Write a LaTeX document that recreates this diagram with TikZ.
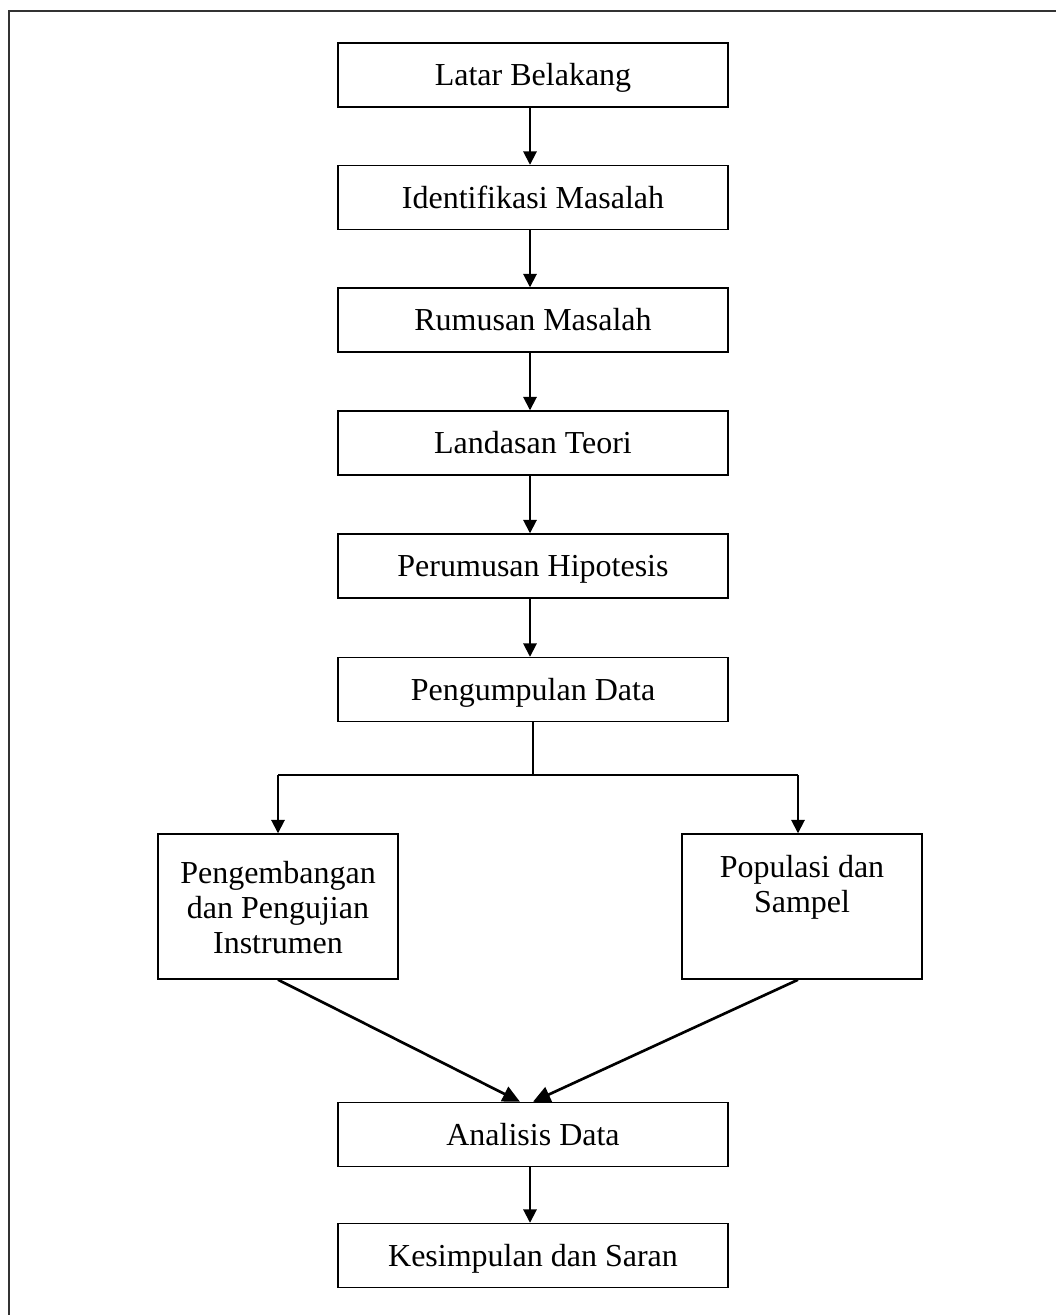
\documentclass[tikz,border=0pt]{standalone}
\usepackage{fontspec}
\setmainfont{Liberation Serif}
\usetikzlibrary{arrows.meta}
\begin{document}
\begin{tikzpicture}[x=0.75pt,y=-0.75pt,
  txt/.style={font=\fontsize{24}{26.25}\selectfont},
  box/.style={draw=black,line width=1.1pt,minimum width=292.5pt,minimum height=48pt,inner sep=0pt,txt,text height=15.75pt,text depth=0pt},
  tallbox/.style={draw=black,line width=1.1pt,minimum width=180pt,minimum height=108.75pt,inner sep=0pt},
  lbl/.style={txt,align=center,inner sep=0pt,anchor=north},
  flow/.style={line width=1.4pt,-{Triangle[width=10pt,length=10pt]}},
  diag/.style={line width=2pt,-{Triangle[width=12pt,length=13pt]}},
  plain/.style={line width=1.4pt}
]
\useasboundingbox (0,0) rectangle (1056,1315);
\draw[black!80,line width=1.2pt] (1056,11) -- (9,11) -- (9,1315);

\node[box] (lb) at (533,75) {Latar Belakang};
\node[box] (im) at (533,197.5) {Identifikasi Masalah};
\node[box] (rm) at (533,320) {Rumusan Masalah};
\node[box] (lt) at (533,443) {Landasan Teori};
\node[box] (ph) at (533,566) {Perumusan Hipotesis};
\node[box] (pd) at (533,689.5) {Pengumpulan Data};

\node[tallbox] (pg) at (278,906.5) {};
\node[lbl] (pgt) at (278,861) {Pengembangan\\dan Pengujian\\Instrumen};
\node[tallbox] (ps) at (802,906.5) {};
\node[lbl] (pst) at (802,855) {Populasi dan\\Sampel};

\node[box] (ad) at (533,1134.5) {Analisis Data};
\node[box] (ks) at (533,1255.5) {Kesimpulan dan Saran};

\draw[flow] ([xshift=-2.25pt]lb.south) -- ([xshift=-2.25pt]im.north);
\draw[flow] ([xshift=-2.25pt]im.south) -- ([xshift=-2.25pt]rm.north);
\draw[flow] ([xshift=-2.25pt]rm.south) -- ([xshift=-2.25pt]lt.north);
\draw[flow] ([xshift=-2.25pt]lt.south) -- ([xshift=-2.25pt]ph.north);
\draw[flow] ([xshift=-2.25pt]ph.south) -- ([xshift=-2.25pt]pd.north);

\coordinate (j) at (533,775);
\coordinate (jl) at (278,775);
\coordinate (jr) at (798,775);
\draw[plain] (pd.south) -- (j);
\draw[plain] (jl) -- (jr);
\draw[flow] (jl) -- (jl |- pg.north);
\draw[flow] (jr) -- (jr |- ps.north);

\draw[diag] (pg.south) -- ([xshift=-9.75pt]ad.north);
\draw[diag] ([xshift=-3pt]ps.south) -- (ad.north);

\draw[flow] ([xshift=-2.25pt]ad.south) -- ([xshift=-2.25pt]ks.north);
\end{tikzpicture}
\end{document}
